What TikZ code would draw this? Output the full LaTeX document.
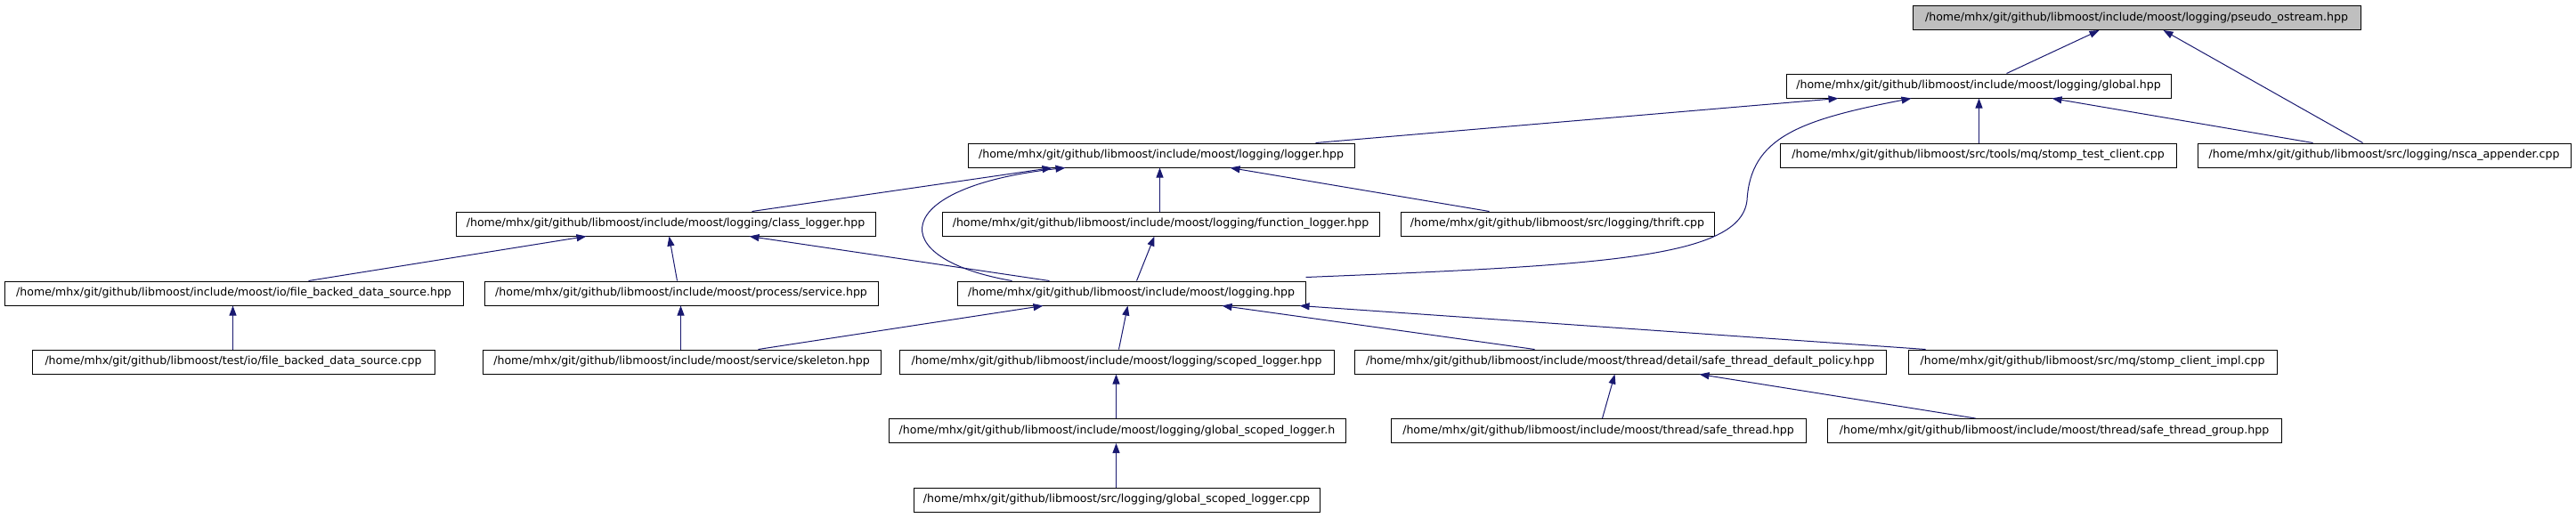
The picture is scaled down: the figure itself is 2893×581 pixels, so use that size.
\documentclass[tikz,border=0pt]{standalone}
\usepackage{fontspec}
\setmainfont{DejaVu Sans}
\usetikzlibrary{arrows.meta,calc}
\definecolor{edgeblue}{HTML}{191970}
\definecolor{rootgray}{HTML}{BFBFBF}
\begin{document}
\begin{tikzpicture}[x=1pt,y=-1pt,
  box/.style={draw=black, line width=1pt, fill=white, inner sep=0pt,
    minimum height=27pt, font=\fontsize{12.56pt}{15pt}\selectfont},
  rootbox/.style={box, fill=rootgray},
  edge/.style={draw=edgeblue, line width=1pt,
    -{Triangle[length=11pt,width=8pt]}}]
\useasboundingbox (0,0) rectangle (2893,581);

% nodes
\node[rootbox, minimum width=503pt] (pseudo) at (2399.5,20) {/home/mhx/git/github/libmoost/include/moost/logging/pseudo\_ostream.hpp};
\node[box, minimum width=432pt] (global) at (2222,96.5) {/home/mhx/git/github/libmoost/include/moost/logging/global.hpp};
\node[box, minimum width=445pt] (stomptest) at (2221.5,174.5) {/home/mhx/git/github/libmoost/src/tools/mq/stomp\_test\_client.cpp};
\node[box, minimum width=419pt] (nsca) at (2677.5,174.5) {/home/mhx/git/github/libmoost/src/logging/nsca\_appender.cpp};
\node[box, minimum width=434pt] (logger) at (1304,174.5) {/home/mhx/git/github/libmoost/include/moost/logging/logger.hpp};
\node[box, minimum width=471pt] (classlogger) at (747.5,251.5) {/home/mhx/git/github/libmoost/include/moost/logging/class\_logger.hpp};
\node[box, minimum width=491pt] (funclogger) at (1303.5,251.5) {/home/mhx/git/github/libmoost/include/moost/logging/function\_logger.hpp};
\node[box, minimum width=352pt] (thrift) at (1749,251.5) {/home/mhx/git/github/libmoost/src/logging/thrift.cpp};
\node[box, minimum width=515pt] (fbdshpp) at (262.5,329.5) {/home/mhx/git/github/libmoost/include/moost/io/file\_backed\_data\_source.hpp};
\node[box, minimum width=442pt] (service) at (765,329.5) {/home/mhx/git/github/libmoost/include/moost/process/service.hpp};
\node[box, minimum width=391pt] (logging) at (1270.5,329.5) {/home/mhx/git/github/libmoost/include/moost/logging.hpp};
\node[box, minimum width=452pt] (fbdscpp) at (262,406.5) {/home/mhx/git/github/libmoost/test/io/file\_backed\_data\_source.cpp};
\node[box, minimum width=447pt] (skeleton) at (765.5,406.5) {/home/mhx/git/github/libmoost/include/moost/service/skeleton.hpp};
\node[box, minimum width=488pt] (scoped) at (1254,406.5) {/home/mhx/git/github/libmoost/include/moost/logging/scoped\_logger.hpp};
\node[box, minimum width=597pt] (policy) at (1819.5,406.5) {/home/mhx/git/github/libmoost/include/moost/thread/detail/safe\_thread\_default\_policy.hpp};
\node[box, minimum width=414pt] (stompimpl) at (2350,406.5) {/home/mhx/git/github/libmoost/src/mq/stomp\_client\_impl.cpp};
\node[box, minimum width=513pt] (gslh) at (1254.5,484) {/home/mhx/git/github/libmoost/include/moost/logging/global\_scoped\_logger.h};
\node[box, minimum width=466pt] (safethread) at (1795,484) {/home/mhx/git/github/libmoost/include/moost/thread/safe\_thread.hpp};
\node[box, minimum width=510pt] (safegroup) at (2307,484) {/home/mhx/git/github/libmoost/include/moost/thread/safe\_thread\_group.hpp};
\node[box, minimum width=456pt] (gslcpp) at (1254,561.5) {/home/mhx/git/github/libmoost/src/logging/global\_scoped\_logger.cpp};

% edges
\draw[edge] ([xshift=248pt]global.north west) -- ([xshift=210pt]pseudo.south west);
\draw[edge] ([xshift=186pt]nsca.north west) -- ([xshift=282pt]pseudo.south west);
\draw[edge] ([xshift=391pt]logger.north west) -- ([xshift=59pt]global.south west);
\draw[edge] ([yshift=4pt]logging.north east) .. controls (1800,298) and (1955,290) .. (1962,225)
  .. controls (1966,155) and (2020,135) .. ([xshift=141pt]global.south west);
\draw[edge] ([xshift=224pt]stomptest.north west) -- ([xshift=217pt]global.south west);
\draw[edge] ([xshift=130pt]nsca.north west) -- ([xshift=299pt]global.south west);
\draw[edge] ([xshift=333pt]classlogger.north west) -- ([xshift=95pt]logger.south west);
\draw[edge] ([xshift=62pt]logging.north west) .. controls (990,290) and (1000,210) .. ([xshift=110pt]logger.south west);
\draw[edge] ([xshift=245pt]funclogger.north west) -- ([xshift=216pt]logger.south west);
\draw[edge] ([xshift=100pt]thrift.north west) -- ([xshift=295pt]logger.south west);
\draw[edge] ([xshift=342pt]fbdshpp.north west) -- ([xshift=147pt]classlogger.south west);
\draw[edge] ([xshift=217pt]service.north west) -- ([xshift=240pt]classlogger.south west);
\draw[edge] ([xshift=104pt]logging.north west) -- ([xshift=330pt]classlogger.south west);
\draw[edge] ([xshift=202pt]logging.north west) -- ([xshift=239pt]funclogger.south west);
\draw[edge] ([xshift=226pt]fbdscpp.north west) -- ([xshift=257pt]fbdshpp.south west);
\draw[edge] ([xshift=223pt]skeleton.north west) -- ([xshift=221pt]service.south west);
\draw[edge] ([xshift=310pt]skeleton.north west) -- ([xshift=97pt]logging.south west);
\draw[edge] ([xshift=247pt]scoped.north west) -- ([xshift=192pt]logging.south west);
\draw[edge] ([xshift=203pt]policy.north west) -- ([xshift=298pt]logging.south west);
\draw[edge] ([xshift=20pt]stompimpl.north west) -- ([xshift=385pt]logging.south west);
\draw[edge] ([xshift=256pt]gslh.north west) -- ([xshift=244pt]scoped.south west);
\draw[edge] ([xshift=228pt]gslcpp.north west) -- ([xshift=256pt]gslh.south west);
\draw[edge] ([xshift=238pt]safethread.north west) -- ([xshift=293pt]policy.south west);
\draw[edge] ([xshift=167pt]safegroup.north west) -- ([xshift=388pt]policy.south west);
\end{tikzpicture}
\end{document}
